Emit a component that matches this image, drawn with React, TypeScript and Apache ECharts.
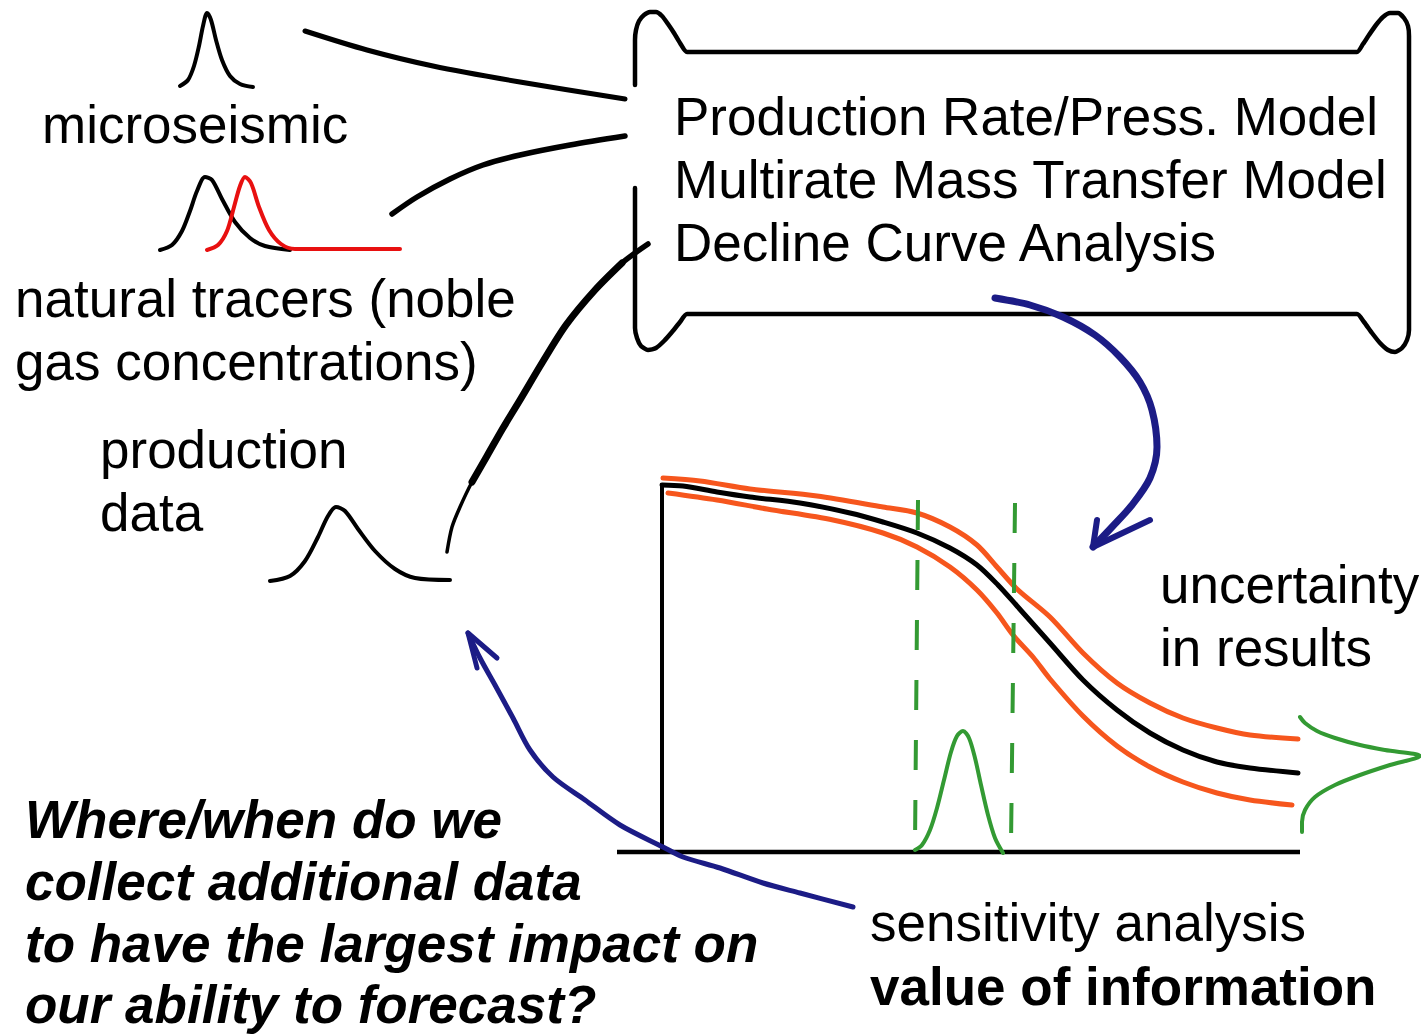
import React, { useEffect, useRef } from "react";
import * as echarts from "echarts";

// ---------- Diagram data (diagram units: x to the right, y downward) ----------
// Input-data distributions (left column)
const microseismicPdf: number[][] = [
  [180, 86], [188, 80], [194, 66], [199, 46], [203, 26], [207, 13], [211, 20],
  [216, 40], [222, 60], [230, 76], [240, 84], [253, 87],
];
const tracerPdfA: number[][] = [
  [160, 250], [172, 245], [182, 231], [190, 211], [197, 191], [205, 177], [212, 180],
  [222, 199], [235, 222], [250, 238], [265, 246], [290, 250],
];
const tracerPdfB: number[][] = [
  [207, 250], [218, 245], [227, 231], [234, 207], [240, 186], [245, 177], [251, 183],
  [259, 207], [269, 230], [281, 244], [295, 249], [400, 249],
];
const productionPdf: number[][] = [
  [270, 581], [290, 576], [305, 561], [318, 537], [328, 516], [336, 507], [345, 511],
  [358, 529], [375, 551], [395, 569], [415, 578], [450, 580],
];

// Connector strokes from inputs to the model box
const connectorMicroseismic: number[][] = [
  [305, 31], [367, 50], [433, 66], [520, 82], [625, 99],
];
const connectorTracers: number[][] = [
  [392, 214], [417, 197], [450, 179], [483, 165], [520, 155], [570, 145], [625, 136],
];
const connectorProduction: number[][] = [
  [447, 552], [452, 527], [460, 507], [472, 482], [487, 456], [503, 428], [520, 400],
  [542, 363], [566, 325], [595, 290], [622, 263], [648, 244],
];

// Model box outline (scroll shape), open where the connectors enter
const modelBoxOutline: number[][] = [
  [635, 85], [635, 40], [636, 30], [639, 21], [644, 15], [650, 12], [656, 12], [662, 16],
  [668, 24], [674, 33], [680, 43], [687, 52],
  [1357, 52], [1363, 44], [1369, 35], [1376, 25], [1383, 17], [1390, 13], [1398, 13],
  [1404, 18], [1408, 26], [1409, 36],
  [1409, 330], [1407, 340], [1402, 348], [1395, 352], [1388, 350], [1380, 343], [1372, 333],
  [1364, 322], [1357, 314],
  [687, 314], [680, 322], [672, 332], [664, 341], [656, 348], [648, 350], [641, 346],
  [637, 338], [635, 328], [635, 188],
];

// Feedback arrows
const arrowModelToResults: number[][] = [
  [995, 298], [1030, 305], [1063, 317], [1095, 335], [1120, 357], [1140, 382], [1152, 410],
  [1157, 447], [1150, 478], [1132, 505], [1112, 527], [1093, 547],
];
const arrowModelToResultsHead: number[][] = [[1097, 520], [1093, 547], [1150, 520]];
const arrowSensitivityToData: number[][] = [
  [853, 907], [800, 893], [763, 883], [720, 868], [683, 857], [663, 847], [620, 825],
  [585, 800], [553, 777], [530, 750], [513, 718], [495, 685], [480, 658], [468, 633],
];
const arrowSensitivityToDataHead: number[][] = [[497, 658], [468, 633], [477, 668]];

// Forecast panel
const forecastAxisY: number[][] = [[662, 485], [662, 852]];
const forecastAxisX: number[][] = [[617, 852], [1300, 852]];
const forecastCentral: number[][] = [
  [662, 485], [683, 486], [717, 492], [750, 497], [800, 503], [850, 513], [883, 522],
  [917, 533], [950, 548], [977, 565], [998, 585], [1017, 606], [1050, 643], [1083, 680],
  [1117, 710], [1150, 733], [1183, 750], [1217, 762], [1250, 768], [1298, 773],
];
const forecastUpper: number[][] = [
  [663, 478], [700, 481], [750, 489], [817, 496], [883, 507], [917, 513], [950, 527],
  [977, 545], [997, 567], [1017, 589], [1050, 617], [1083, 653], [1117, 683], [1150, 703],
  [1183, 718], [1217, 728], [1250, 735], [1298, 739],
];
const forecastLower: number[][] = [
  [668, 493], [717, 500], [767, 509], [833, 520], [883, 533], [917, 547], [950, 567],
  [977, 590], [997, 613], [1013, 635], [1033, 657], [1050, 679], [1083, 716], [1117, 746],
  [1150, 767], [1183, 782], [1217, 793], [1250, 800], [1292, 805],
];
const sampleWindowStart: number[][] = [[918, 500], [915, 845]];
const sampleWindowEnd: number[][] = [[1015, 503], [1011, 845]];
const sensitivityPdf: number[][] = [
  [915, 850], [922, 845], [930, 830], [937, 808], [944, 780], [951, 752], [957, 736],
  [963, 731], [969, 738], [975, 758], [981, 785], [988, 815], [995, 838], [1003, 853],
];
const resultPdf: number[][] = [
  [1300, 717], [1305, 723], [1317, 731], [1335, 738], [1360, 745], [1385, 750], [1420, 756],
  [1390, 765], [1360, 775], [1335, 785], [1315, 797], [1305, 810], [1302, 822], [1302, 832],
];

// ---------- Texts ----------
const inputLabels = ["microseismic", "natural tracers (noble", "gas concentrations)", "production", "data"];
const modelLines = ["Production Rate/Press. Model", "Multirate Mass Transfer Model", "Decline Curve Analysis"];
const resultLines = ["uncertainty", "in results"];
const questionLines = [
  "Where/when do we",
  "collect additional data",
  "to have the largest impact on",
  "our ability to forecast?",
];
const analysisLines = ["sensitivity analysis", "value of information"];

// ---------- Layout / style ----------
const W = 1421;
const H = 1036;
const FONT = '"Liberation Sans", Arial, Helvetica, sans-serif';
const FS = 53;
const BLACK = "#000000";
const ORANGE = "#F6561D";
const RED = "#E81010";
const GREEN = "#339A33";
const NAVY = "#1C1C86";

const inputPos = [[42, 124], [15, 298], [15, 361], [100, 449], [100, 512]];
const modelPos = [[674, 116], [674, 179], [674, 242]];
const resultPos = [[1160, 584], [1160, 647]];
const questionPos = [[25, 819], [25, 881], [25, 943], [25, 1004]];
const analysisPos = [[870, 922], [870, 986]];

function lineSeries(
  name: string,
  data: number[][],
  color: string,
  width: number,
  opts: { smooth?: number | boolean; dash?: number[]; z?: number; cap?: string } = {}
) {
  return {
    type: "line",
    name,
    data,
    symbol: "none",
    silent: true,
    smooth: opts.smooth ?? 0.3,
    z: opts.z ?? 2,
    lineStyle: {
      color,
      width,
      type: opts.dash ?? "solid",
      cap: opts.cap ?? "round",
      join: "round",
    },
  };
}

function textEl(text: string, pos: number[], weight = "normal", style = "normal") {
  return {
    type: "text",
    x: pos[0],
    y: pos[1],
    silent: true,
    z: 10,
    style: {
      text,
      fill: BLACK,
      fontFamily: FONT,
      fontSize: FS,
      fontWeight: weight,
      fontStyle: style,
      align: "left",
      verticalAlign: "middle",
    },
  };
}

export default function App() {
  const ref = useRef<HTMLDivElement>(null);

  useEffect(() => {
    document.body.style.margin = "0";
    if (!ref.current) return;
    const chart = echarts.init(ref.current, null, { renderer: "svg" });

    const series = [
      // model box
      lineSeries("modelBox", modelBoxOutline, BLACK, 4.5, { smooth: 0.2 }),
      // connectors
      lineSeries("connMicro", connectorMicroseismic, BLACK, 5),
      lineSeries("connTracer", connectorTracers, BLACK, 5.5),
      lineSeries("connProdThin", connectorProduction, BLACK, 3.5),
      lineSeries("connProdThick", connectorProduction.slice(3, 11), BLACK, 7),
      lineSeries("connProdHook", connectorProduction.slice(9), BLACK, 5.5),
      // input pdfs
      lineSeries("microseismic", microseismicPdf, BLACK, 4),
      lineSeries("tracerA", tracerPdfA, BLACK, 4),
      lineSeries("tracerB", tracerPdfB, RED, 4),
      lineSeries("production", productionPdf, BLACK, 4),
      // forecast panel
      lineSeries("axisY", forecastAxisY, BLACK, 4, { smooth: false, cap: "butt" }),
      lineSeries("axisX", forecastAxisX, BLACK, 4.5, { smooth: false, cap: "butt" }),
      lineSeries("upper", forecastUpper, ORANGE, 5, { z: 3 }),
      lineSeries("lower", forecastLower, ORANGE, 5, { z: 3 }),
      lineSeries("central", forecastCentral, BLACK, 5, { z: 4 }),
      lineSeries("windowStart", sampleWindowStart, GREEN, 4, { smooth: false, dash: [30, 30], cap: "butt", z: 5 }),
      lineSeries("windowEnd", sampleWindowEnd, GREEN, 4, { smooth: false, dash: [30, 30], cap: "butt", z: 5 }),
      lineSeries("sensitivityPdf", sensitivityPdf, GREEN, 4, { z: 5 }),
      lineSeries("resultPdf", resultPdf, GREEN, 4, { z: 5 }),
      // arrows
      lineSeries("arrowA", arrowModelToResults, NAVY, 7, { z: 6 }),
      lineSeries("arrowAHead", arrowModelToResultsHead, NAVY, 6, { smooth: false, z: 6 }),
      lineSeries("arrowB", arrowSensitivityToData, NAVY, 5, { z: 6 }),
      lineSeries("arrowBHead", arrowSensitivityToDataHead, NAVY, 5, { smooth: false, z: 6 }),
    ];

    const graphic = [
      ...inputLabels.map((t, i) => textEl(t, inputPos[i])),
      ...modelLines.map((t, i) => textEl(t, modelPos[i])),
      ...resultLines.map((t, i) => textEl(t, resultPos[i])),
      ...questionLines.map((t, i) => textEl(t, questionPos[i], "bold", "italic")),
      textEl(analysisLines[0], analysisPos[0]),
      textEl(analysisLines[1], analysisPos[1], "bold"),
    ];

    chart.setOption({
      animation: false,
      backgroundColor: "#ffffff",
      tooltip: { show: false },
      grid: { left: 0, right: 0, top: 0, bottom: 0, containLabel: false },
      xAxis: { type: "value", min: 0, max: W, show: false },
      yAxis: { type: "value", min: 0, max: H, inverse: true, show: false },
      series,
      graphic,
    });

    return () => {
      chart.dispose();
    };
  }, []);

  return (
    <div
      ref={ref}
      style={{ position: "fixed", left: 0, top: 0, width: W, height: H, background: "#fff" }}
    />
  );
}
